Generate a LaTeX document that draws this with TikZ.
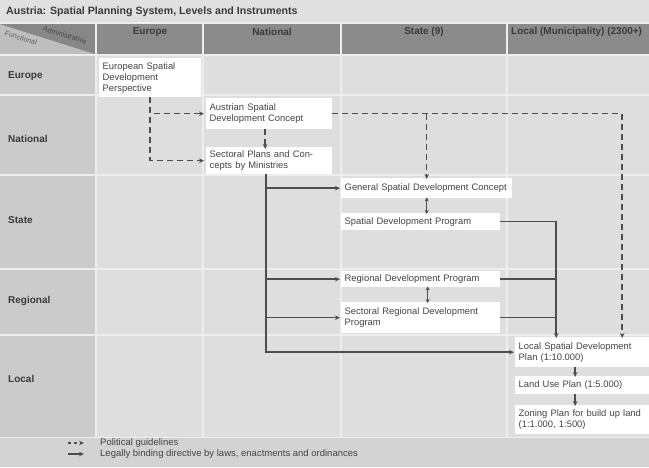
\documentclass[tikz,border=0pt]{standalone}
\usepackage{fontspec}
\setmainfont{Liberation Sans}
\usetikzlibrary{arrows.meta}

\definecolor{paper}{HTML}{EEEEEE}
\definecolor{titlebg}{HTML}{E0E0E0}
\definecolor{headbg}{HTML}{8B8B8B}
\definecolor{cornerdark}{HTML}{878787}
\definecolor{cornerlight}{HTML}{BEBEBE}
\definecolor{labelbg}{HTML}{CBCBCB}
\definecolor{cellbg}{HTML}{DEDEDE}
\definecolor{legendbg}{HTML}{D3D3D3}
\definecolor{ink}{HTML}{3A3A3A}
\definecolor{boxtext}{HTML}{444444}
\definecolor{wire}{HTML}{4D4D4D}

\newcommand\bxfont{\fontsize{9.4}{11}\selectfont}
\newcommand\lblfont{\fontsize{10}{12}\selectfont\bfseries}
\newcommand\lgfont{\fontsize{9.5}{11}\selectfont}

\begin{document}
\begin{tikzpicture}[x=1pt,y=-1pt,
  box/.style={fill=white, inner xsep=3.5pt, inner ysep=0pt, anchor=north west,
              align=left, font=\bxfont, text=boxtext},
  rowlabel/.style={anchor=west, inner sep=0pt, font=\lblfont, text=ink},
  colhead/.style={anchor=center, inner sep=0pt, font=\lblfont, text=ink},
  cornertext/.style={rotate=-17.5, inner sep=0pt, font=\fontsize{7.2}{8}\selectfont},
  guide/.style={draw=wire, line width=1.5pt, dash pattern=on 6pt off 4pt,
                -{Stealth[length=5pt,width=4.5pt]}},
  law/.style={draw=wire, line width=1.5pt, -{Stealth[length=5pt,width=4.5pt]}},
  lawline/.style={draw=wire, line width=1.5pt},
  twoway/.style={draw=wire, line width=1.5pt,
                 {Stealth[length=4pt,width=4pt]}-{Stealth[length=4pt,width=4pt]}},
  gridline/.style={draw=paper, line width=2pt}]

\useasboundingbox (0,0) rectangle (649,467);
\fill[paper] (0,0) rectangle (649,467);

% title bar
\fill[titlebg] (0,0) rectangle (649,22);
\node[anchor=west, inner sep=0pt, font=\fontsize{10.6}{12}\selectfont\bfseries, text=ink]
  (title) at (6,12) {Austria: Spatial Planning System, Levels and Instruments};

% header row with the split corner cell
\fill[headbg] (0,24) rectangle (649,54);
\fill[cornerlight] (0,24) -- (95,54) -- (0,54) -- cycle;
\fill[cornerdark] (0,24) -- (95,24) -- (95,54) -- cycle;
\node[cornertext, text=black!72] (admin) at (65,35) {Administrative};
\node[cornertext, text=black!62] (func) at (21,38) {Functional};
\node[colhead] (hEurope) at (150,32) {Europe};
\node[colhead] (hNational) at (272,32) {National};
\node[colhead] (hState) at (424,32) {State (9)};
\node[colhead, anchor=west] (hLocal) at (511,32) {Local (Municipality) (2300+)};

% body of the table
\fill[labelbg] (0,55) rectangle (96,437);
\fill[cellbg] (96,55) rectangle (649,437);
\foreach \yy in {55,95,175,269,335} \draw[gridline] (0,\yy) -- (649,\yy);
\foreach \xx in {96,203,341,507} \draw[gridline] (\xx,24) -- (\xx,437);
\fill[legendbg] (0,438) rectangle (649,467);

% row labels
\node[rowlabel] (rEurope) at (8,76) {Europe};
\node[rowlabel] (rNational) at (8,139) {National};
\node[rowlabel] (rState) at (8,220) {State};
\node[rowlabel] (rRegional) at (8,301) {Regional};
\node[rowlabel] (rLocal) at (8,379) {Local};

% instruments
\node[box, text width=95pt, minimum height=39pt] (esdp) at (99,58)
  {European Spatial\\Development\\Perspective};
\node[box, text width=119pt, minimum height=31pt] (asdc) at (206,98)
  {Austrian Spatial\\Development Concept};
\node[box, text width=119pt, minimum height=27pt] (spcm) at (206,147)
  {Sectoral Plans and Con-\\cepts by Ministries};
\node[box, text width=164pt, minimum height=20pt] (gsdc) at (341,178)
  {General Spatial Development Concept};
\node[box, text width=152pt, minimum height=17pt] (sdp) at (341,213)
  {Spatial Development Program};
\node[box, text width=152pt, minimum height=16pt] (rdp) at (341,271)
  {Regional Development Program};
\node[box, text width=152pt, minimum height=31pt] (srdp) at (341,302)
  {Sectoral Regional Development\\Program};
\node[box, text width=127pt, minimum height=30pt] (lsdp) at (515,337)
  {Local Spatial Development\\Plan (1:10.000)};
\node[box, text width=127pt, minimum height=18pt] (lup) at (515,376)
  {Land Use Plan (1:5.000)};
\node[box, text width=127pt, minimum height=29pt] (zp) at (515,405)
  {Zoning Plan for build up land\\(1:1.000, 1:500)};

% political guidelines
\draw[guide] (esdp.south) |- ([xshift=-2]asdc.west);
\draw[guide] (esdp.south) |- ([xshift=-2]spcm.west);
\draw[guide] ([xshift=-4]asdc.south) -- ([xshift=-4,yshift=-2]spcm.north);
\coordinate (ldash) at ([xshift=40]lsdp.north);
\draw[guide] (asdc.east) -| ([yshift=-1]ldash);
\draw[guide] (asdc.east -| gsdc.north) -- ([yshift=-1]gsdc.north);

% legally binding directives
\coordinate (trunk) at ([xshift=-3]spcm.south);
\draw[law] (trunk) |- ([xshift=-1]lsdp.west);
\draw[law] (trunk |- gsdc.west) -- ([xshift=-1]gsdc.west);
\draw[law] (trunk |- rdp.west) -- ([xshift=-1]rdp.west);
\draw[law] (trunk |- srdp.west) -- ([xshift=-1]srdp.west);
\coordinate (lsolid) at ([xshift=-26]lsdp.north);
\draw[law] (sdp.east) -| ([yshift=-1]lsolid);
\draw[lawline] (rdp.east) -- (rdp.east -| lsolid);
\draw[lawline] (srdp.east) -- (srdp.east -| lsolid);
\draw[twoway] ([yshift=1]gsdc.south) -- ([yshift=-1]gsdc.south |- sdp.north);
\draw[twoway] ([xshift=7,yshift=1]rdp.south) -- ([xshift=7,yshift=-1]srdp.north);
\draw[law] ([xshift=-7]lsdp.south) -- ([xshift=-7,yshift=-1]lsdp.south |- lup.north);
\draw[law] ([xshift=-7]lup.south) -- ([xshift=-7,yshift=-1]lup.south |- zp.north);

% legend
\coordinate (lgA) at (68,443);
\coordinate (lgB) at (84,443);
\coordinate (lgC) at (68,454);
\coordinate (lgD) at (84,454);
\draw[guide, line width=1.2pt, dash pattern=on 3pt off 3pt] (lgA) -- (lgB);
\draw[law, line width=1.2pt] (lgC) -- (lgD);
\node[anchor=west, inner sep=0pt, font=\lgfont, text=boxtext] (lg1) at (100,443)
  {Political guidelines};
\node[anchor=west, inner sep=0pt, font=\lgfont, text=boxtext] (lg2) at (100,454)
  {Legally binding directive by laws, enactments and ordinances};
\end{tikzpicture}
\end{document}
